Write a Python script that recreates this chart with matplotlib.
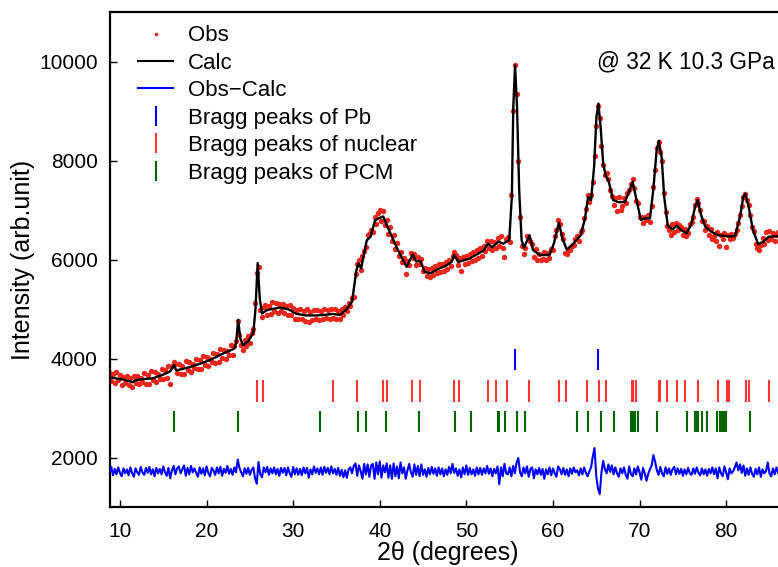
import numpy as np
import matplotlib
matplotlib.use('Agg')
import matplotlib.pyplot as plt
from matplotlib.lines import Line2D

plt.rcParams['font.family'] = ['Liberation Sans', 'DejaVu Sans']

# ---------------- data ----------------
two_theta_start = 8.8
two_theta_step = 0.2

obs = [
    3700, 3540, 3680, 3500, 3720, 3560, 3660, 3470, 3620, 3510,
    3650, 3460, 3600, 3420, 3650, 3500, 3640, 3480, 3610, 3520,
    3700, 3490, 3660, 3480, 3740, 3560, 3720, 3520, 3680, 3590,
    3780, 3590, 3760, 3600, 3850, 3480, 3850, 3930, 3880, 3700,
    3880, 3690, 3850, 3680, 3940, 3760, 3920, 3730, 3880, 3800,
    3980, 3780, 3960, 3790, 4050, 3870, 4030, 3840, 4000, 3920,
    4110, 3910, 4090, 3930, 4190, 4020, 4180, 3990, 4150, 4080,
    4280, 4070, 4260, 4360, 4760, 4480, 4280, 4180, 4380, 4250,
    4450, 4310, 4520, 4600, 5120, 5720, 5850, 4980, 4840, 5040,
    5080, 4880, 5070, 4900, 5140, 4960, 5120, 4920, 5100, 4960,
    5110, 4920, 5070, 4880, 5090, 4880, 5020, 4800, 4980, 4790,
    4990, 4790, 4950, 4760, 4990, 4730, 4940, 4780, 4970, 4800,
    4970, 4780, 4960, 4800, 4990, 4810, 4980, 4790, 5010, 4820,
    5000, 4800, 4960, 4790, 4990, 4870, 5040, 4950, 5130, 5060,
    5230, 5250, 5700, 5900, 5990, 5780, 6070, 6180, 6250, 6500,
    6520, 6600, 6550, 6860, 6720, 6930, 7010, 6780, 6980, 6700,
    6800, 6520, 6650, 6380, 6500, 6220, 6340, 6080, 6150, 5950,
    6030, 5700, 5960, 5880, 6130, 6040, 6120, 5880, 6060, 5900,
    6020, 5760, 5830, 5660, 5810, 5650, 5820, 5680, 5860, 5720,
    5900, 5740, 5910, 5760, 5940, 5800, 5990, 5870, 6080, 6150,
    6090, 5880, 6030, 5770, 6060, 5910, 6080, 5930, 6110, 5960,
    6150, 5990, 6190, 6030, 6230, 6080, 6270, 6170, 6380, 6240,
    6370, 6190, 6360, 6240, 6430, 6270, 6480, 6230, 6050, 6420,
    6450, 6360, 7300, 9000, 9930, 9350, 8000, 6850, 6270, 6120,
    6230, 6480, 6400, 6380, 6320, 6060, 6210, 5980, 6120, 5990,
    6010, 6160, 5990, 6140, 6030, 6210, 6190, 6470, 6600, 6790,
    6720, 6510, 6420, 6130, 6120, 6190, 6200, 6270, 6290, 6420,
    6470, 6380, 6560, 6590, 6840, 7020, 7310, 7170, 7310, 7560,
    8100, 8700, 9100, 8850, 8300, 7900, 7700, 7740, 7620, 7400,
    7280, 7100, 7240, 6980, 7260, 7000, 7090, 7240, 7140, 7340,
    7410, 7520, 7630, 7440, 7190, 7140, 6850, 6850, 6740, 6860,
    6790, 6890, 6750, 7080, 7470, 7800, 8250, 8380, 8180, 7990,
    7350, 6950, 6680, 6600, 6500, 6710, 6560, 6730, 6600, 6690,
    6650, 6500, 6620, 6470, 6530, 6720, 6760, 6850, 7100, 7220,
    7150, 7000, 6780, 6770, 6590, 6670, 6500, 6620, 6420, 6480,
    6370, 6550, 6280, 6490, 6410, 6530, 6250, 6500, 6420, 6520,
    6430, 6510, 6600, 6740, 6900, 7080, 7260, 7320, 7200, 7100,
    6900, 6650, 6580, 6320, 6230, 6200, 6290, 6440, 6310, 6560,
    6400, 6570, 6410, 6530, 6370, 6500, 6560,
]

obs_minus_calc = [
    1720, 1810, 1640, 1770, 1660, 1800, 1690, 1620, 1780, 1680,
    1760, 1640, 1800, 1690, 1610, 1780, 1700, 1650, 1810, 1700,
    1650, 1790, 1690, 1810, 1660, 1760, 1620, 1790, 1680, 1770,
    1660, 1820, 1700, 1630, 1790, 1580, 1740, 1830, 1660, 1780,
    1820, 1680, 1760, 1840, 1630, 1790, 1660, 1830, 1700, 1780,
    1690, 1610, 1800, 1670, 1780, 1640, 1820, 1690, 1620, 1790,
    1740, 1650, 1800, 1680, 1810, 1630, 1770, 1690, 1830, 1670,
    1770, 1650, 1800, 1700, 1960, 1790, 1700, 1620, 1780, 1670,
    1790, 1650, 1750, 1800, 1580, 1470, 1910, 1660, 1600, 1800,
    1700, 1810, 1650, 1780, 1680, 1800, 1660, 1770, 1630, 1790,
    1690, 1790, 1640, 1800, 1680, 1610, 1810, 1660, 1780, 1650,
    1770, 1640, 1800, 1680, 1790, 1590, 1760, 1660, 1820, 1690,
    1780, 1660, 1800, 1650, 1810, 1690, 1790, 1660, 1820, 1680,
    1770, 1650, 1790, 1630, 1750, 1600, 1740, 1590, 1760, 1800,
    1680, 1830, 1880, 1630, 1840, 1720, 1570, 1870, 1660, 1860,
    1610, 1840, 1870, 1570, 1900, 1660, 1920, 1590, 1840, 1700,
    1880, 1590, 1840, 1570, 1880, 1620, 1820, 1580, 1900, 1680,
    1800, 1570, 1740, 1870, 1700, 1610, 1860, 1650, 1830, 1620,
    1860, 1650, 1760, 1610, 1790, 1660, 1810, 1670, 1780, 1630,
    1800, 1660, 1780, 1620, 1760, 1650, 1810, 1680, 1870, 1690,
    1780, 1630, 1760, 1600, 1800, 1660, 1840, 1650, 1790, 1660,
    1760, 1630, 1800, 1660, 1790, 1650, 1780, 1680, 1830, 1670,
    1780, 1620, 1770, 1680, 1820, 1460, 1800, 1620, 1870, 1680,
    1660, 1800, 1620, 1830, 1680, 1900, 1990, 1700, 1620, 1800,
    1680, 1820, 1610, 1770, 1800, 1580, 1760, 1660, 1790, 1650,
    1770, 1570, 1760, 1660, 1800, 1640, 1780, 1680, 1610, 1820,
    1760, 1660, 1790, 1650, 1760, 1620, 1780, 1670, 1800, 1700,
    1740, 1640, 1780, 1660, 1800, 1690, 1620, 1720, 1800, 2020,
    2190, 1620, 1370, 1260, 1700, 1930, 1760, 1680, 1860, 1710,
    1840, 1660, 1800, 1680, 1610, 1780, 1680, 1800, 1650, 1570,
    1820, 1670, 1620, 1780, 1660, 1820, 1700, 1550, 1790, 1680,
    1530, 1670, 1760, 1840, 2050, 1910, 1740, 1650, 1810, 1680,
    1620, 1800, 1670, 1780, 1650, 1760, 1810, 1660, 1780, 1670,
    1770, 1630, 1760, 1660, 1790, 1680, 1650, 1780, 1670, 1800,
    1690, 1640, 1780, 1660, 1760, 1630, 1770, 1680, 1800, 1660,
    1780, 1580, 1800, 1680, 1620, 1820, 1700, 1560, 1780, 1680,
    1720, 1800, 1900, 1740, 1860, 1690, 1840, 1630, 1780, 1650,
    1800, 1670, 1610, 1770, 1660, 1800, 1610, 1760, 1680, 1720,
    1900, 1680, 1620, 1780, 1660, 1800, 1690,
]

calc_x = [8.85, 9.5, 10.5, 11.5, 11.7, 12.5, 13.8, 14.8, 15.8, 16.25, 16.5,
          17.5, 18.5, 19.5, 20.4, 21.9, 23.2, 23.4, 23.65, 23.9, 24.2, 24.8,
          25.4, 25.65, 25.9, 26.15, 26.4, 27.0, 28.5, 29.5, 30.4, 31.5, 32.7,
          33.5, 34.6, 35.4, 36.2, 36.8, 37.3, 37.55, 37.85, 38.5, 38.95, 39.45,
          39.85, 40.4, 40.8, 41.4, 42.1, 43.1, 43.8, 44.2, 44.7, 45.2, 45.8,
          46.9, 47.5, 48.3, 48.6, 49.05, 50.4, 51.95, 52.5, 53.0, 53.7, 54.25,
          54.95, 55.25, 55.42, 55.62, 55.85, 56.1, 56.38, 56.65, 57.3, 57.7,
          58.5, 59.6, 60.1, 60.68, 61.1, 61.6, 62.35, 63.2, 63.7, 64.05, 64.4,
          64.75, 65.02, 65.25, 65.5, 65.8, 66.08, 66.45, 66.95, 67.5, 68.3,
          68.8, 69.2, 69.65, 70.15, 70.6, 71.2, 71.58, 71.97, 72.22, 72.55,
          72.85, 73.25, 73.8, 74.3, 74.85, 75.45, 76.0, 76.45, 76.7, 77.1,
          77.6, 78.3, 79.1, 80.2, 81.0, 81.6, 81.97, 82.22, 82.6, 83.1, 83.7,
          84.3, 84.9, 86.0, 86.8]
calc_y = [3620, 3600, 3570, 3520, 3560, 3580, 3600, 3660, 3740, 3870, 3760,
          3800, 3850, 3910, 3970, 4100, 4200, 4300, 4780, 4400, 4270, 4340,
          4520, 5000, 5930, 5200, 4910, 4980, 5030, 4990, 4900, 4870, 4870,
          4880, 4900, 4880, 5000, 5150, 5780, 5920, 5820, 6390, 6460, 6790,
          6830, 6870, 6700, 6460, 6190, 5850, 6100, 5960, 5970, 5750, 5720,
          5820, 5860, 5950, 6090, 5950, 6020, 6176, 6320, 6250, 6360, 6320,
          6390, 7260, 9080, 9920, 9080, 7400, 6390, 6240, 6490, 6190,
          6090, 6090, 6320, 6740, 6420, 6200, 6320, 6490, 6830, 7260, 7200,
          7870, 8880, 9150, 8680, 7940, 7700, 7570, 7200, 7160, 7160,
          7370, 7570, 7200, 6800, 6830, 6830, 7400, 8200, 8400, 8070,
          7260, 6690, 6610, 6680, 6590, 6530, 6730, 7100, 7200, 6900,
          6660, 6560, 6490, 6470, 6470, 6860, 7260, 7330, 7060, 6590, 6310,
          6360, 6460, 6470, 6480]

bragg_pb = [55.61, 65.23]
bragg_nuclear = [25.86, 26.47, 34.56, 37.41, 40.33, 40.86, 43.72, 44.64,
                 48.57, 49.11, 52.46, 53.42, 54.69, 57.27, 60.66, 61.54,
                 63.93, 65.27, 66.16, 69.12, 69.28, 69.55, 72.2, 72.39,
                 73.12, 74.28, 75.24, 76.71, 79.09, 80.09, 80.28, 82.25,
                 82.67, 84.94]
bragg_pcm = [16.24, 23.66, 33.1, 37.44, 38.4, 40.72, 44.49, 48.65, 50.57,
             53.69, 53.8, 54.5, 55.85, 56.8, 62.77, 64.0, 65.54, 67.04,
             69.0, 69.28, 69.47, 69.86, 72.04, 75.51, 76.4, 76.59, 76.78,
             77.17, 77.82, 78.9, 79.28, 79.48, 79.75, 79.98, 82.71]

labels = ['Obs', 'Calc', 'Obs\u2212Calc', 'Bragg peaks of Pb',
          'Bragg peaks of nuclear', 'Bragg peaks of PCM']
annotation = '@ 32 K 10.3 GPa'

# ---------------- styles ----------------
RED_OBS = '#e8261c'
RED_TICK = '#ff3535'
BLUE = '#0000ff'
GREEN = '#006400'

x_obs = two_theta_start + two_theta_step * np.arange(len(obs))
x_diff = two_theta_start + two_theta_step * np.arange(len(obs_minus_calc))

W, H = 778, 567
fig = plt.figure(figsize=(W / 100, H / 100), dpi=100)
ax = fig.add_axes([110 / W, 60 / H, 675 / W, 495 / H])

ax.plot(x_obs, obs, ls='none', marker='o', ms=3.9, mew=0, color=RED_OBS, zorder=2)
ax.plot(calc_x, calc_y, color='black', lw=1.7, zorder=3)
ax.plot(x_diff, obs_minus_calc, color=BLUE, lw=1.5, zorder=3)

ax.vlines(bragg_pb, 3760, 4190, color=BLUE, lw=1.5)
ax.vlines(bragg_nuclear, 3130, 3570, color=RED_TICK, lw=1.5)
ax.vlines(bragg_pcm, 2510, 2945, color=GREEN, lw=1.5)

ax.set_xlim(8.85, 8.85 + 675 / 8.66)
ax.set_ylim(1000, 11000)
ax.set_xticks([10, 20, 30, 40, 50, 60, 70, 80])
ax.set_yticks([2000, 4000, 6000, 8000, 10000])

for s in ['left', 'bottom', 'top']:
    ax.spines[s].set_linewidth(1.6)
ax.spines['right'].set_visible(False)
ax.tick_params(axis='both', direction='in', length=5, width=1.0, labelsize=15)
ax.tick_params(axis='y', pad=9)
ax.tick_params(axis='x', pad=11)

ax.set_xlabel('2\u03b8 (degrees)', fontsize=18, labelpad=0)
ax.set_ylabel('Intensity (arb.unit)', fontsize=18, labelpad=3)

ax.text(65.08, 10000, annotation, fontsize=16.3, ha='left', va='center')

handles = [
    Line2D([], [], ls='none', marker='o', ms=2.6, mew=0, color=RED_OBS),
    Line2D([], [], color='black', lw=1.5),
    Line2D([], [], color=BLUE, lw=1.5),
    Line2D([], [], ls='none', marker='|', ms=15, mew=1.5, color=BLUE),
    Line2D([], [], ls='none', marker='|', ms=15, mew=1.5, color=RED_TICK),
    Line2D([], [], ls='none', marker='|', ms=15, mew=1.5, color=GREEN),
]
ax.legend(handles, labels, loc='upper left', bbox_to_anchor=(0.0415, 0.973),
          frameon=False, fontsize=16, borderpad=0, borderaxespad=0,
          handlelength=1.58, handletextpad=0.68, labelspacing=0.29,
          numpoints=1)

fig.savefig('out.png', dpi=100)
